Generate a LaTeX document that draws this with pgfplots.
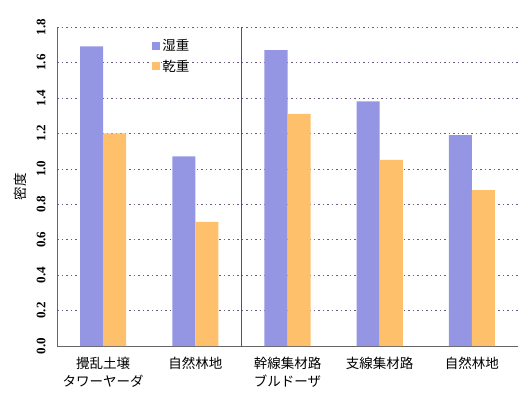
\documentclass[border=0pt]{standalone}
\usepackage{pgfplots}
\pgfplotsset{compat=1.18}
\usepackage{fontspec}
\setmainfont{Liberation Serif}
\newfontfamily\jp{Noto Sans CJK JP}
\definecolor{wet}{RGB}{148,150,228}
\definecolor{dry}{RGB}{255,192,108}
\definecolor{divider}{RGB}{105,55,175}
\definecolor{gridc}{RGB}{110,90,130}
\begin{document}
\begin{tikzpicture}
\begin{axis}[
  scale only axis, width=461pt, height=319pt,
  ybar=0pt, bar width=0.25,
  xmin=-0.5, xmax=4.5, ymin=0, ymax=1.8,
  axis x line*=bottom, axis y line*=left,
  axis line style={gray!80!black, -},
  xtick={0,1,2,3,4},
  xticklabels={攪乱土壌\\タワーヤーダ, 自然林地, 幹線集材路\\ブルドーザ, 支線集材路, 自然林地},
  xticklabel style={font=\jp\fontsize{13.5}{18}\selectfont, align=center, yshift=-3pt},
  major x tick style={draw=none},
  extra x ticks={0.5,2.5,3.5,4.5},
  extra x tick labels={},
  extra x tick style={major tick length=5pt, tick align=inside, tick style={draw=gray!80!black}},
  ytick={0,0.2,...,1.81},
  yticklabel style={font=\bfseries\fontsize{13}{15}\selectfont, rotate=90, anchor=south, yshift=8pt},
  /pgf/number format/assume math mode=true,
  /pgf/number format/.cd, fixed, fixed zerofill, precision=1, /pgfplots/.cd,
  major y tick style={draw=none},
  ymajorgrids,
  grid style={gridc, dash pattern=on 1.5pt off 3pt},
  ylabel={\jp 密度},
  ylabel style={at={(axis description cs:0,0.5)}, anchor=center, yshift=37pt,
    font=\fontsize{13.5}{15}\selectfont},
  legend style={at={(0.2,0.975)}, anchor=north west, draw=none, fill=none,
    font=\jp\fontsize{13.5}{15}\selectfont, row sep=4pt,
    legend cell align=left},
  legend image code/.code={\fill[#1,draw=none] (0pt,-4pt) rectangle (8pt,4pt);},
]
\addplot[fill=wet, draw=none] coordinates {(0,1.69) (1,1.07) (2,1.67) (3,1.38) (4,1.19)};
\addplot[fill=dry, draw=none] coordinates {(0,1.20) (1,0.70) (2,1.31) (3,1.05) (4,0.88)};
\legend{湿重, 乾重}
\draw[divider, line width=1.1pt] (axis cs:1.5,1.8) -- (axis cs:1.5,-0.15);
\end{axis}
\pgfresetboundingbox
\useasboundingbox ([xshift=-57pt,yshift=-53pt]current axis.south west) rectangle ([xshift=8pt,yshift=27pt]current axis.north east);
\end{tikzpicture}
\end{document}
